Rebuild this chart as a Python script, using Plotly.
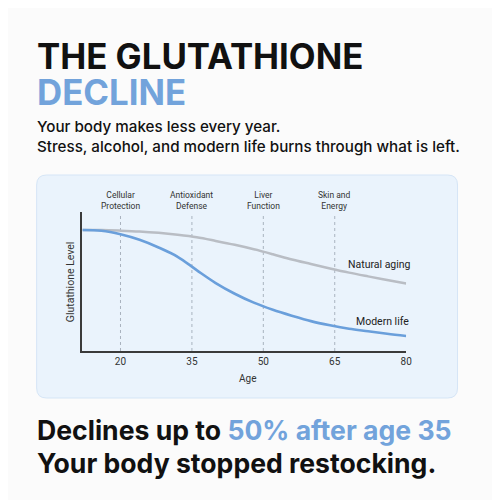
import plotly.graph_objects as go

# chart data (every 4 years of age)
ages = [12, 16, 20, 24, 28, 32, 36, 40, 44, 48, 52, 56, 60, 64, 68, 72, 76, 80]
natural_aging = [87, 87, 86.6, 86, 85, 83.6, 81.8, 79.2, 76.4, 73.2, 69.6, 65.8, 62.6, 59.4, 56.4, 53.7, 51.1, 48.6]
modern_life = [87, 86.5, 84, 80, 74.5, 67.8, 58.2, 48.9, 41.2, 34.8, 29.7, 25.4, 21.5, 18.5, 16, 14.2, 12.4, 10.8]
stage_ages = [20, 35, 50, 65]
stage_labels = ["Cellular<br>Protection", "Antioxidant<br>Defense", "Liver<br>Function", "Skin and<br>Energy"]
tick_ages = [20, 35, 50, 65, 80]

BLUE = "#6a9fdb"
GREY = "#b9bdc4"
HEAD_FONT = "Inter"
TEXT_DARK = "#111111"
AXIS_DARK = "#3a3a3a"
PAGE_OFFSET = 8  # body margin of the html page


def fx(v):
    # screen pixel -> paper x
    return (v - PAGE_OFFSET) / 500


def fy(v):
    # screen pixel -> paper y
    return 1 - (v - PAGE_OFFSET) / 500


def rounded_rect(x0, y0, x1, y1, r):
    return (
        f"M {x0 + r},{y0} L {x1 - r},{y0} Q {x1},{y0} {x1},{y0 + r} "
        f"L {x1},{y1 - r} Q {x1},{y1} {x1 - r},{y1} "
        f"L {x0 + r},{y1} Q {x0},{y1} {x0},{y1 - r} "
        f"L {x0},{y0 + r} Q {x0},{y0} {x0 + r},{y0} Z"
    )


fig = go.Figure()
fig.add_trace(
    go.Scatter(
        x=ages,
        y=natural_aging,
        mode="lines",
        line=dict(color=GREY, width=2.5, shape="spline"),
        hoverinfo="skip",
    )
)
fig.add_trace(
    go.Scatter(
        x=ages,
        y=modern_life,
        mode="lines",
        line=dict(color=BLUE, width=2.6, shape="spline"),
        hoverinfo="skip",
    )
)

shapes = [
    dict(
        type="path",
        xref="paper",
        yref="paper",
        path=rounded_rect(fx(37), fy(398), fx(463), fy(175), 10 / 500),
        fillcolor="#eaf3fc",
        line=dict(color="#d5e5f6", width=1),
        layer="below",
    )
]
for a in stage_ages:
    shapes.append(
        dict(
            type="line",
            xref="x",
            yref="paper",
            x0=a,
            x1=a,
            y0=fy(351),
            y1=fy(213),
            line=dict(color="#a9b3bf", width=1, dash="dot"),
            layer="below",
        )
    )

annotations = []
for a, lab in zip(stage_ages, stage_labels):
    annotations.append(
        dict(
            x=a,
            xref="x",
            y=fy(200.5),
            text=lab,
            font=dict(family="Roboto", size=8.5, color="#333333"),
            align="center",
        )
    )

annotations += [
    dict(x=fx(35), y=fy(56), text="<b>THE GLUTATHIONE</b>", xanchor="left",
         font=dict(family=HEAD_FONT, size=34.8, color=TEXT_DARK)),
    dict(x=fx(35), y=fy(91.5), text="<b>DECLINE</b>", xanchor="left",
         font=dict(family=HEAD_FONT, size=34.8, color="#72a3db")),
    dict(x=fx(35), y=fy(126.5), text="Your body makes less every year.", xanchor="left",
         font=dict(family=HEAD_FONT, size=15.2, color=TEXT_DARK, weight=500)),
    dict(x=fx(35), y=fy(146.5), text="Stress, alcohol, and modern life burns through what is left.", xanchor="left",
         font=dict(family=HEAD_FONT, size=15.2, color=TEXT_DARK, weight=500)),
    dict(x=fx(35), y=fy(429.5),
         text="<b>Declines up to <span style='color:#72a3db'>50% after age 35</span></b>", xanchor="left",
         font=dict(family=HEAD_FONT, size=26.6, color=TEXT_DARK)),
    dict(x=fx(35), y=fy(462.5), text="<b>Your body stopped restocking.</b>", xanchor="left",
         font=dict(family=HEAD_FONT, size=26.6, color=TEXT_DARK)),
    dict(x=fx(418), y=fy(264.3), text="Natural aging", xanchor="right",
         font=dict(family="Roboto", size=10.5, color="#222222")),
    dict(x=fx(416), y=fy(321.7), text="Modern life", xanchor="right",
         font=dict(family="Roboto", size=10.5, color="#222222")),
    dict(x=fx(250), y=fy(378), text="Age",
         font=dict(family="Roboto", size=10, color="#333333")),
    dict(x=fx(71), y=fy(282), text="Glutathione Level", textangle=-90,
         font=dict(family="Roboto", size=10.5, color="#333333")),
]
for ann in annotations:
    ann.setdefault("xref", "paper")
    ann.setdefault("yref", "paper")
    ann.setdefault("xanchor", "center")
    ann["yanchor"] = "middle"
    ann["showarrow"] = False

fig.update_layout(
    width=500,
    height=500,
    margin=dict(l=0, r=0, t=0, b=0),
    paper_bgcolor="#fbfbfb",
    plot_bgcolor="rgba(0,0,0,0)",
    showlegend=False,
    shapes=shapes,
    annotations=annotations,
    xaxis=dict(
        domain=[fx(83.3), fx(411)],
        range=[12, 80],
        tickvals=tick_ages,
        showgrid=False,
        zeroline=False,
        showline=True,
        linecolor=AXIS_DARK,
        linewidth=1.5,
        ticks="",
        tickfont=dict(family="Roboto", size=10, color="#333333"),
        fixedrange=True,
    ),
    yaxis=dict(
        domain=[fy(351), fy(212)],
        range=[0, 100],
        showticklabels=False,
        showgrid=False,
        zeroline=False,
        showline=True,
        linecolor=AXIS_DARK,
        linewidth=1.5,
        ticks="",
        fixedrange=True,
    ),
)

fig.write_html("out.html")
